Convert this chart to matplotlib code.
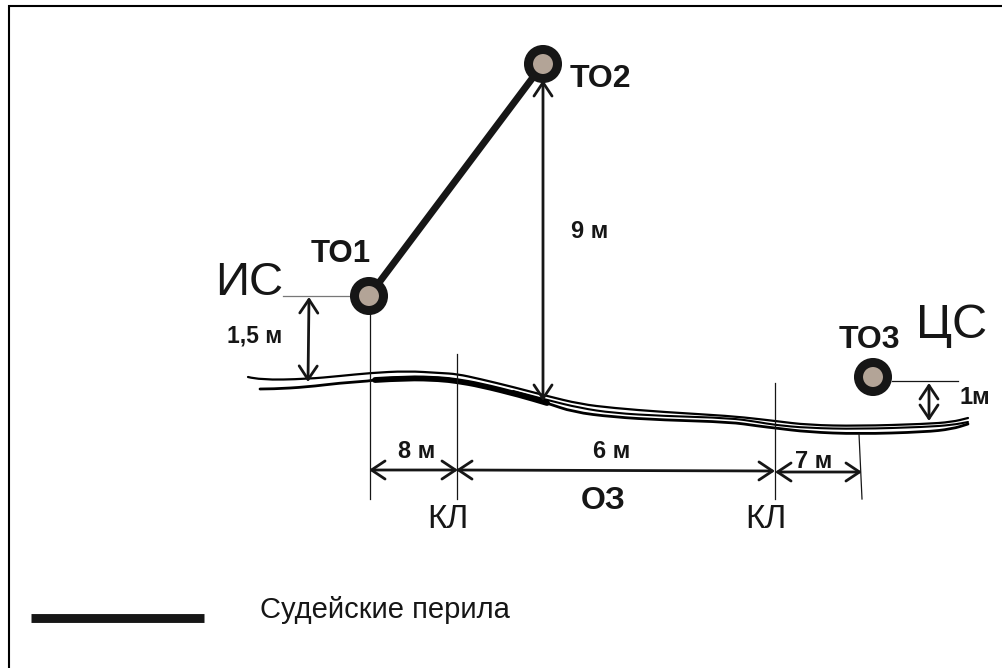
import matplotlib
matplotlib.use("Agg")
import matplotlib.pyplot as plt
from matplotlib.patches import Circle, PathPatch
from matplotlib.path import Path

plt.rcParams['font.family'] = ['Liberation Sans', 'DejaVu Sans']

INK = "#161616"

# rope outline (pixel coordinates)
top_x = [248, 260, 307, 340, 370, 407, 440, 457, 480, 513, 547, 580, 613, 663, 730, 758, 775, 808, 858, 925, 952, 968]
top_y = [377, 380, 379, 376, 373, 371, 373, 374, 379, 387, 396, 404, 408, 412, 416, 419, 421, 425, 426, 424, 422, 418]
mid_x = [513, 547, 580, 613, 663, 730, 758, 775, 808, 858, 925, 952, 968]
mid_y = [391, 400, 408, 413, 416, 418, 422, 425, 428, 429, 427, 425, 422]
low_x = [260, 273, 307, 340, 370, 380, 407, 440, 457, 480, 520, 547, 573, 613, 663, 730, 758, 775, 808, 858, 925, 952, 968]
low_y = [389, 389, 387, 383, 381, 379, 377, 378, 380, 386, 395, 403, 412, 417, 420, 422, 426, 428, 432, 434, 432, 429, 424]
# the stretch where the rope reads as one thick band
heavy_x = [375, 407, 440, 457, 480, 520, 547]
heavy_y = [380, 378, 379, 381, 385, 395, 403]

# judges rope and stages
rope_x = [369, 543]
rope_y = [296, 64]
stage_x = [369, 543, 873]
stage_y = [296, 64, 377]

# thin construction lines
thin_lines = [
    ([283, 355], [296, 296], "#777777"),
    ([370, 370], [296, 499], INK),
    ([457, 457], [354, 499], INK),
    ([775, 775], [383, 499], INK),
    ([859, 862], [434, 499], INK),
    ([892, 958], [381, 381], INK),
]

# double headed dimension arrows
dim_arrows = [
    ((309, 297), (308, 382)),
    ((543, 80), (543, 401)),
    ((929, 383), (929, 421)),
    ((369, 470), (458, 470)),
    ((456, 470), (775, 471)),
    ((775, 472), (862, 472)),
]

# text, x, y, size, weight
labels = [
    ("ТО1", 341, 254, 22.5, "bold"),
    ("ТО2", 600, 79, 23, "bold"),
    ("ТО3", 869, 340, 23, "bold"),
    ("ИС", 249, 283, 34, "normal"),
    ("ЦС", 952, 326, 35, "normal"),
    ("1,5 м", 255, 336, 16.5, "bold"),
    ("9 м", 590, 231, 17, "bold"),
    ("1м", 975, 398, 17, "bold"),
    ("8 м", 417, 451, 17, "bold"),
    ("6 м", 612, 452, 17, "bold"),
    ("7 м", 814, 462, 17, "bold"),
    ("ОЗ", 603, 501, 23, "bold"),
    ("КЛ", 448, 520, 24, "normal"),
    ("КЛ", 766, 520, 24, "normal"),
    ("Судейские перила", 385, 610, 21, "normal"),
]


def rope_path(xs, ys):
    # quadratic segments through the midpoints so the rope has no corners
    verts = [(xs[0], ys[0])]
    codes = [Path.MOVETO]
    for i in range(1, len(xs) - 1):
        verts += [(xs[i], ys[i]), ((xs[i] + xs[i + 1]) / 2, (ys[i] + ys[i + 1]) / 2)]
        codes += [Path.CURVE3, Path.CURVE3]
    verts.append((xs[-1], ys[-1]))
    codes.append(Path.LINETO)
    return Path(verts, codes)


fig = plt.figure(figsize=(10.03, 6.68), dpi=100)
ax = fig.add_axes([0, 0, 1, 1])
ax.set_xlim(0, 1003)
ax.set_ylim(668, 0)
ax.axis("off")

# frame: only the left and top edges are in the picture
ax.plot([9, 9, 1003], [668, 6, 6], color="black", linewidth=1.5, solid_joinstyle="miter")

for xs, ys, lw in [(top_x, top_y, 1.6), (mid_x, mid_y, 1.5), (low_x, low_y, 2.0), (heavy_x, heavy_y, 4.2)]:
    ax.add_patch(PathPatch(rope_path(xs, ys), fill=False, edgecolor="black", linewidth=lw, capstyle="round"))

for xs, ys, col in thin_lines:
    ax.plot(xs, ys, color=col, linewidth=0.9)

for start, end in dim_arrows:
    ax.annotate("", xy=end, xytext=start,
                arrowprops=dict(arrowstyle="<->,head_length=0.75,head_width=0.5", color=INK,
                                linewidth=2.0, mutation_scale=13, shrinkA=0, shrinkB=0))

ax.plot(rope_x, rope_y, color=INK, linewidth=5.0, solid_capstyle="butt")

for cx, cy in zip(stage_x, stage_y):
    ax.add_patch(Circle((cx, cy), 14.5, facecolor="#b3a497", edgecolor=INK, linewidth=6.5, zorder=5))

for txt, x, y, size, weight in labels:
    ax.text(x, y, txt, fontsize=size, fontweight=weight, color=INK, ha="center", va="center")

# legend sample
ax.plot([31, 204], [617.5, 617.5], color=INK, linewidth=6.4, solid_capstyle="butt")

fig.savefig("out.png", dpi=100, facecolor="white")
